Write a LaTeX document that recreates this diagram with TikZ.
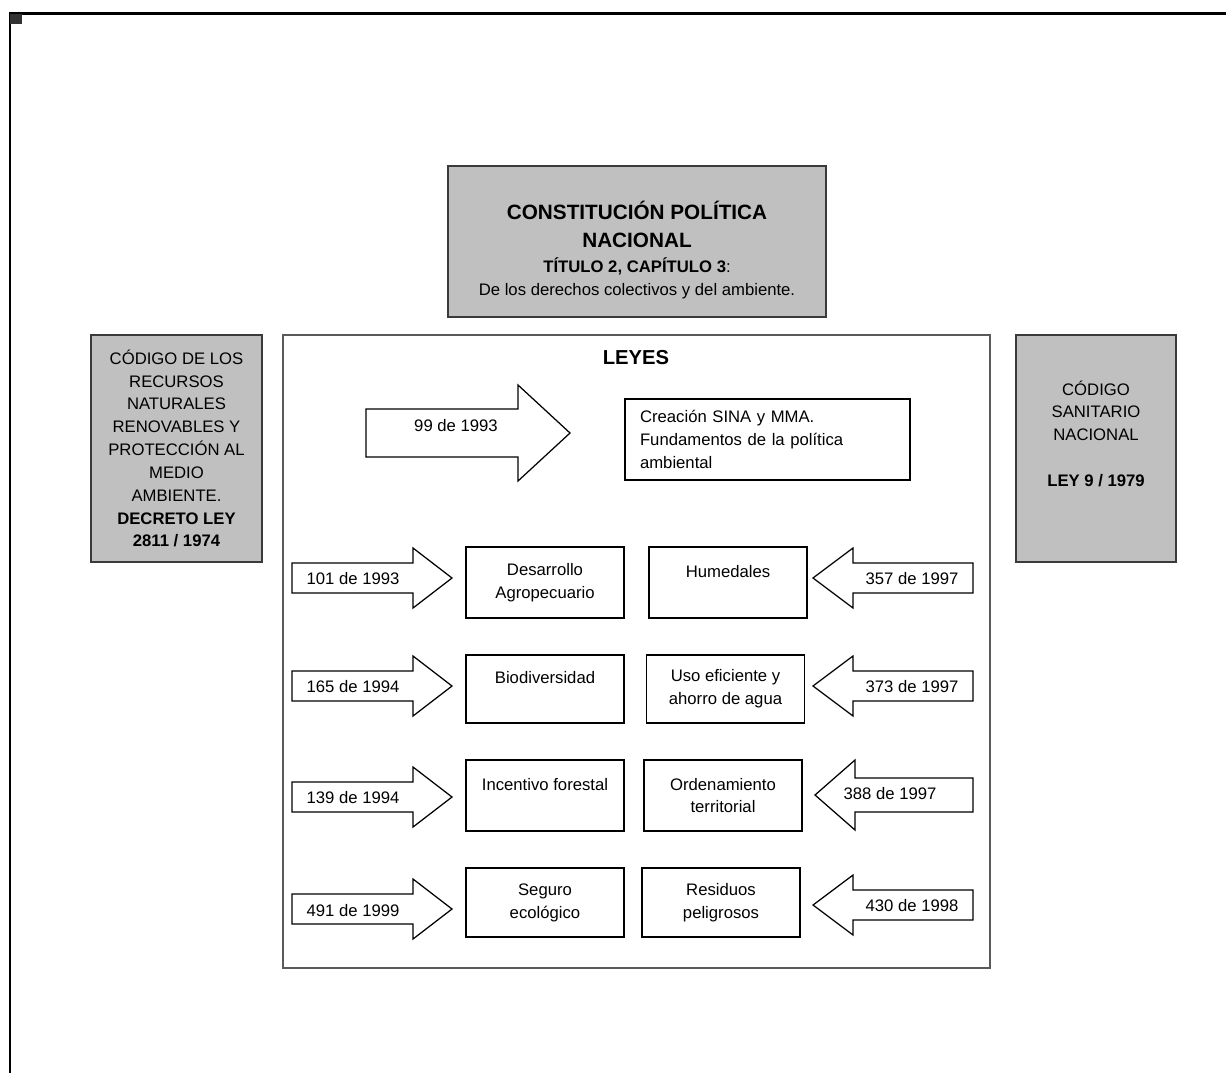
\documentclass[tikz,border=0pt]{standalone}
\usepackage{fontspec}
\setmainfont{Liberation Sans}
\usetikzlibrary{positioning}
\definecolor{grisfondo}{HTML}{C0C0C0}
\definecolor{grisborde}{HTML}{3A3A3A}
\definecolor{grismarco}{HTML}{5A5A5A}
\tikzset{
  texto/.style = {align=center, inner sep=0pt, font=\fontsize{9.5}{13}\selectfont},
  gris/.style = {texto, rectangle, fill=grisfondo, draw=grisborde, line width=0.35mm},
  caja/.style = {texto, rectangle, draw=black, fill=white, line width=0.25mm, minimum width=3.16cm},
  flecha/.style = {draw=black, fill=white, line width=0.25mm, line join=miter},
  ley/.style = {texto},
}

\begin{document}
\begin{tikzpicture}[x=0.02cm, y=-0.02cm]
  \useasboundingbox (0,0) rectangle (1226,1073);
  % marco de la hoja
  \draw[line width=0.45mm] (1226,13.5) -- (10,13.5) -- (10,1073);
  \fill[black!80] (10,13.5) rectangle (22,24);

  % constitucion
  \node [gris, minimum width=7.56cm, minimum height=3.02cm] (consti) at (637,241.5) {};
  \node [texto] (consti-txt) at ([yshift=-0.17cm]consti.center) {%
    {\fontsize{11.8}{16}\selectfont\bfseries CONSTITUCIÓN POLÍTICA}\\[3pt]
    {\fontsize{11.8}{16}\selectfont\bfseries NACIONAL}\\[1.2pt]
    {\bfseries TÍTULO 2, CAPÍTULO 3}:\\
    De los derechos colectivos y del ambiente.};

  % codigos a los lados
  \node [gris, minimum width=3.42cm, minimum height=4.54cm] (recursos) at (176.5,448.5)
    {CÓDIGO DE LOS\\RECURSOS\\NATURALES\\RENOVABLES Y\\PROTECCIÓN AL\\MEDIO\\AMBIENTE.\\
     \textbf{DECRETO LEY}\\\textbf{2811 / 1974}};
  \node [gris, minimum width=3.2cm, minimum height=4.54cm] (sanitario) at (1096,448.5)
    {CÓDIGO\\SANITARIO\\NACIONAL\\~\\\textbf{LEY 9 / 1979}\\[4pt]~};

  % leyes
  \node [draw=grismarco, line width=0.3mm, minimum width=14.14cm, minimum height=12.66cm, inner sep=0pt] (leyes) at (636.5,651.5) {};
  \node [texto, font=\fontsize{11.5}{14}\selectfont\bfseries] (leyes-txt) at (636,358) {LEYES};

  \draw[flecha] (366,409) -| (518,385) -- (570,433) -- (518,481) |- (366,457) -- cycle;
  \node [ley] (l99) at (456,426) {99 de 1993};
  \node [texto, draw=black, line width=0.25mm, align=left, text width=5.1cm, inner xsep=0.3cm,
    minimum height=1.62cm] (sina) at (767.5,439.5)
    {Creación SINA y MMA.\\Fundamentos de la política\\ambiental};

  % fila 1
  \draw[flecha] (292,563) -| (413,548) -- (452,578) -- (413,608) |- (292,593) -- cycle;
  \node [ley] (l101) at (353,579) {101 de 1993};
  \node [caja, minimum height=1.42cm] (desarrollo) at (545,582.5) {Desarrollo\\Agropecuario};
  \node [caja, minimum height=1.42cm] (humedales) at (728,582.5) {Humedales\\~};
  \draw[flecha] (973,563) -| (853,548) -- (813,578) -- (853,608) |- (973,593) -- cycle;
  \node [ley] (l357) at (912,579) {357 de 1997};

  % fila 2
  \draw[flecha] (292,671) -| (413,656) -- (452,686) -- (413,716) |- (292,701) -- cycle;
  \node [ley] (l165) at (353,687) {165 de 1994};
  \node [caja, minimum height=1.36cm] (biodiversidad) at (545,689) {Biodiversidad\\~};
  \node [caja, minimum height=1.36cm] (agua) at (725.5,689) {Uso eficiente y\\ahorro de agua};
  \draw[flecha] (973,671) -| (853,656) -- (813,686) -- (853,716) |- (973,701) -- cycle;
  \node [ley] (l373) at (912,687) {373 de 1997};

  % fila 3
  \draw[flecha] (292,782) -| (413,767) -- (452,797) -- (413,827) |- (292,812) -- cycle;
  \node [ley] (l139) at (353,798) {139 de 1994};
  \node [caja, minimum height=1.42cm] (forestal) at (545,795.5) {Incentivo forestal\\~};
  \node [caja, minimum height=1.42cm] (territorial) at (723,795.5) {Ordenamiento\\territorial};
  \draw[flecha] (973,778) -| (855,760) -- (815,795) -- (855,830) |- (973,812) -- cycle;
  \node [ley] (l388) at (890,794) {388 de 1997};

  % fila 4
  \draw[flecha] (292,894) -| (413,879) -- (452,909) -- (413,939) |- (292,924) -- cycle;
  \node [ley] (l491) at (353,911) {491 de 1999};
  \node [caja, minimum height=1.38cm] (seguro) at (545,902.5) {Seguro\\ecológico};
  \node [caja, minimum height=1.38cm] (residuos) at (721,902.5) {Residuos\\peligrosos};
  \draw[flecha] (973,890) -| (853,875) -- (813,905) -- (853,935) |- (973,920) -- cycle;
  \node [ley] (l430) at (912,906) {430 de 1998};
\end{tikzpicture}
\end{document}
